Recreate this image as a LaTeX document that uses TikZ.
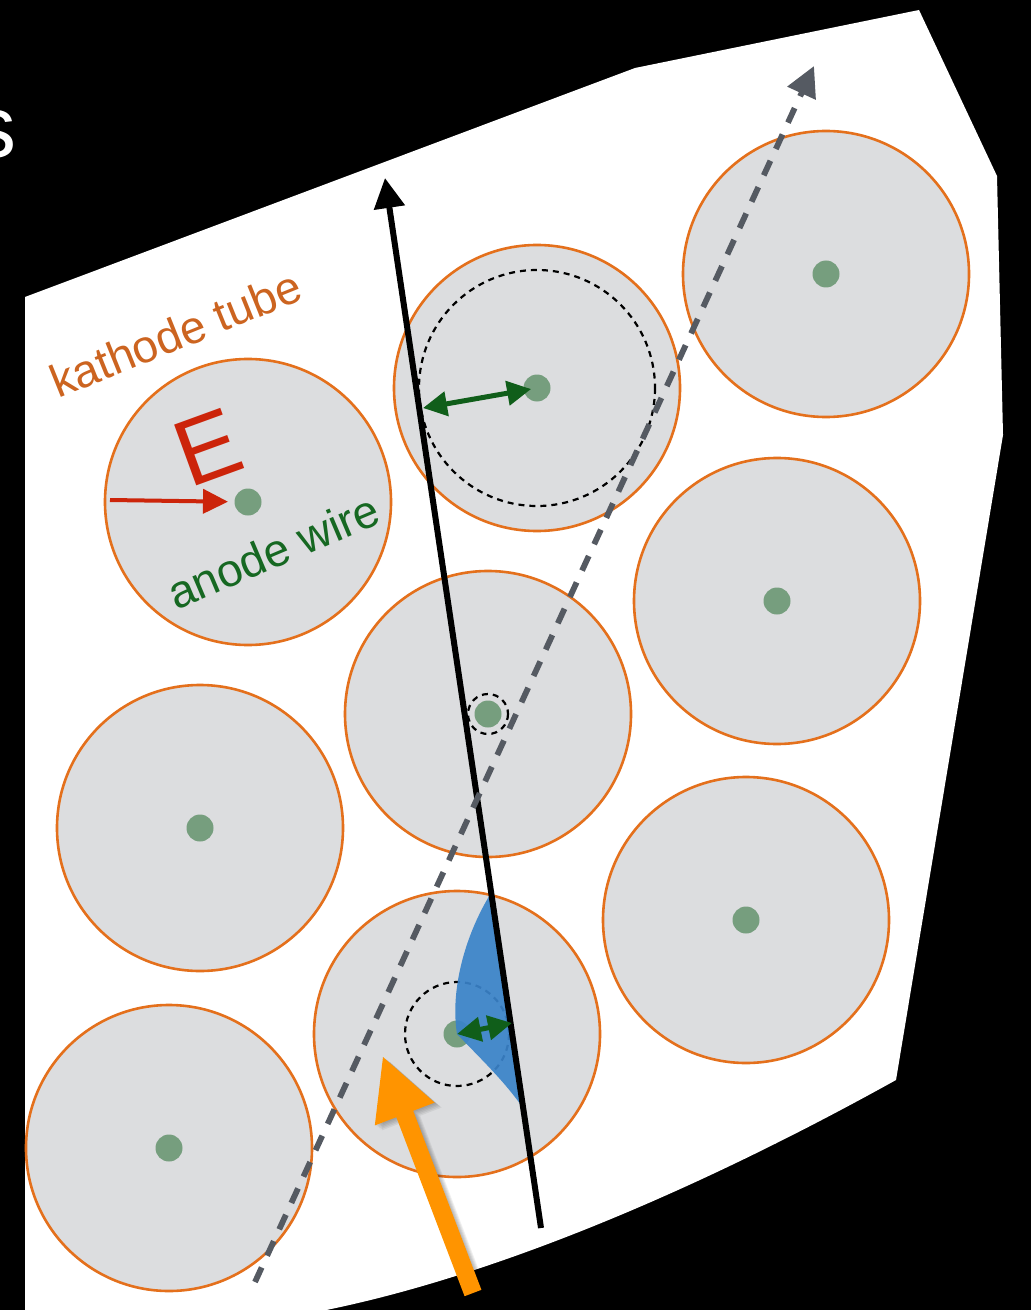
\documentclass[tikz,border=0pt]{standalone}
\usepackage{fontspec}
\setmainfont{Liberation Sans}
\usetikzlibrary{arrows.meta,calc}
\definecolor{tubegrey}{RGB}{220,221,223}
\definecolor{tubeorange}{RGB}{228,112,28}
\definecolor{kathodeorange}{RGB}{204,100,32}
\definecolor{wiregreen}{RGB}{118,158,126}
\definecolor{anodegreen}{RGB}{22,104,34}
\definecolor{driftgreen}{RGB}{16,94,26}
\definecolor{efieldred}{RGB}{204,36,10}
\definecolor{trackgrey}{RGB}{85,90,98}
\definecolor{beamorange}{RGB}{255,148,0}
\definecolor{driftblue}{RGB}{58,131,201}

% outline of the fat incoming arrow
\newcommand{\beamoutline}{%
  ($(beamtail)!4.5pt!90:(beamtip)$) -- ($(beambase)!4.5pt!90:(beamtip)$)
  -- ($(beambase)!16pt!90:(beamtip)$) -- (beamtip)
  -- ($(beambase)!16pt!-90:(beamtip)$) -- ($(beambase)!4.5pt!-90:(beamtip)$)
  -- ($(beamtail)!4.5pt!-90:(beamtip)$) -- cycle}

\begin{document}
\begin{tikzpicture}[x=0.5pt,y=-0.5pt,
    tube/.style={circle,draw=tubeorange,line width=1.3pt,fill=tubegrey,minimum size=143pt,inner sep=0pt},
    wire/.style={circle,fill=wiregreen,minimum size=13.5pt,inner sep=0pt},
    isochrone/.style={draw=black,line width=1.1pt,dash pattern=on 3pt off 2.5pt},
    drift/.style={draw=driftgreen,line width=2.5pt,{Triangle[length=12pt,width=12pt]}-{Triangle[length=12pt,width=12pt]}},
    tip/.style={-{Triangle[length=15pt,width=15pt]}},
    label/.style={inner sep=0pt,anchor=base west,font=\fontsize{23}{27}\selectfont}]
  \useasboundingbox (0,0) rectangle (1031,1310);
  \fill[black] (0,0) rectangle (1031,1310);

  % the sheet
  \fill[white] (25,297) -- (635,68) -- (919,10) -- (997,176) -- (1003,435) -- (896,1080)
    .. controls (680,1200) and (470,1285) .. (300,1315) -- (25,1315) -- cycle;
  \node[text=white,anchor=base east,inner sep=0pt,font=\fontsize{44}{48}\selectfont] (titlecut) at (17,158) {s};

  % tubes and wires
  \foreach \n/\x/\y in {1/248/502, 2/537/388, 3/826/274, 4/200/828, 5/488/714,
                        6/777/601, 7/169/1148, 8/457/1034, 9/746/920}
    \node[tube] (t\n) at (\x,\y) {};
  \foreach \n in {1,...,9}
    \node[wire] (w\n) at (t\n) {};

  \draw[isochrone] (t2.center) circle[radius=118];
  \draw[isochrone] (t5.center) circle[radius=20];
  \draw[isochrone] (t8.center) circle[radius=52];

  \coordinate (blueTop) at (491,893);
  \coordinate (blueBot) at (523,1108);
  \fill[driftblue,opacity=0.92] (blueTop) .. controls (465,935) and (450,990) .. (w8.center)
    .. controls (482,1060) and (505,1082) .. (blueBot) -- cycle;

  % tracks
  \coordinate (trackstart) at (541,1228);
  \coordinate (trackend) at (385,178);
  \draw[line width=3pt,tip] (trackstart) -- (trackend);
  \coordinate (otherstart) at (255,1282);
  \coordinate (otherend) at (814,66);
  \draw[trackgrey,line width=2.9pt,dash pattern=on 8pt off 6.5pt,tip] (otherstart) -- (otherend);

  % drift distances
  \coordinate (hit2) at (423,408);
  \draw[drift,shorten >=3pt] (hit2) -- (w2.center);
  \coordinate (hit8) at (512,1023);
  \draw[drift] (w8.center) -- (hit8);

  % field
  \coordinate (efrom) at (110,500);
  \draw[efieldred,line width=2pt,-{Triangle[length=12.5pt,width=12pt]},shorten >=10pt] (efrom) -- (w1.center);
  \node[text=efieldred,rotate=20,inner sep=0pt,font=\fontsize{47}{50}\selectfont] (elabel) at (208,447) {E};

  \node[label,text=kathodeorange,rotate=22] (kathodelabel) at (58,399) {kathode tube};
  \node[label,text=anodegreen,rotate=23] (anodelabel) at (176,611) {anode wire};

  % incoming particle, with a soft shadow
  \coordinate (beamtail) at (473,1293);
  \coordinate (beamtip) at (383,1057);
  \coordinate (beambase) at ($(beamtip)!30.5pt!(beamtail)$);
  \foreach \s in {1,...,5}
    \fill[black,opacity=0.06,transform canvas={xshift=0.7*\s pt,yshift=-0.5*\s pt}] \beamoutline;
  \fill[beamorange] \beamoutline;
\end{tikzpicture}
\end{document}
